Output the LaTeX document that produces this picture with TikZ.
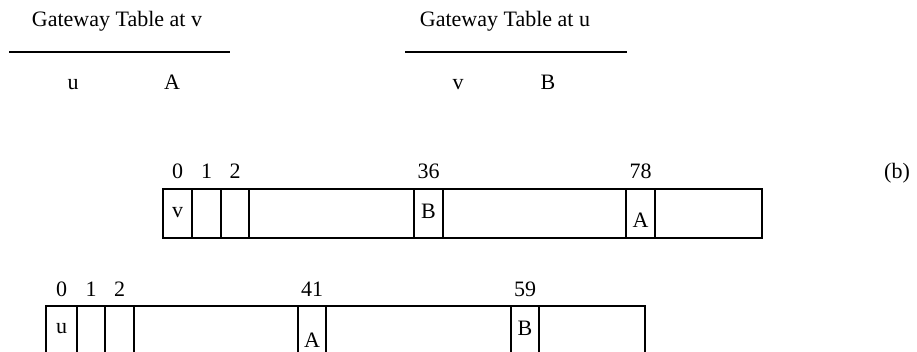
\documentclass[tikz,border=0pt]{standalone}
\usepackage{fontspec}
\setmainfont{Liberation Serif}
\usepackage{tikz}
\usetikzlibrary{positioning}
\tikzset{
    lbl/.style={inner sep=0pt, font=\fontsize{16.5}{18}\selectfont},
    idx/.style={lbl, anchor=base},
    hrule/.style={line width=1pt},
    slotline/.style={line width=0.95pt},
}

\begin{document}
\begin{tikzpicture}[x=0.75pt,y=-0.75pt]
  \clip (0,0) rectangle (917,351);

  % gateway tables
  \node[idx] (tv) at (117,26) {Gateway Table at v};
  \node[idx] (tu) at (505,26) {Gateway Table at u};
  \coordinate (tvl) at (9,52);   \coordinate (tvr) at (230,52);
  \coordinate (tul) at (405,52); \coordinate (tur) at (627,52);
  \draw[hrule] (tvl) -- (tvr);
  \draw[hrule] (tul) -- (tur);
  \node[idx] (tvu) at (73,89)  {u};
  \node[idx] (tvA) at (172,89) {A};
  \node[idx] (tuv) at (458,89) {v};
  \node[idx] (tuB) at (548,89) {B};

  % array at v
  \draw[slotline] (163,189) rectangle (762,238);
  \foreach \x in {192,221,249,414,443,626,655}
    \draw[slotline] (\x,189) -- (\x,238);
  \node[idx] (v0) at (177.5,178) {0};
  \node[idx] (v1) at (206.5,178) {1};
  \node[idx] (v2) at (235,178) {2};
  \node[idx] (v36) at (428.5,178) {36};
  \node[idx] (v78) at (640.5,178) {78};
  \node[idx] (cv) at (177.5,217) {v};
  \node[idx] (cB) at (428.5,218) {B};
  \node[idx] (cA) at (640.5,227) {A};
  \node[idx] (b) at (897,178) {(b)};

  % array at u
  \draw[slotline] (46,306) rectangle (645,356);
  \foreach \x in {77,105,134,298,326,511,539}
    \draw[slotline] (\x,306) -- (\x,356);
  \node[idx] (u0) at (61.5,296) {0};
  \node[idx] (u1) at (91,296) {1};
  \node[idx] (u2) at (119.5,296) {2};
  \node[idx] (u41) at (312,296) {41};
  \node[idx] (u59) at (525,296) {59};
  \node[idx] (cu) at (61.5,333) {u};
  \node[idx] (cA2) at (312,347) {A};
  \node[idx] (cB2) at (525,335) {B};
\end{tikzpicture}
\end{document}
